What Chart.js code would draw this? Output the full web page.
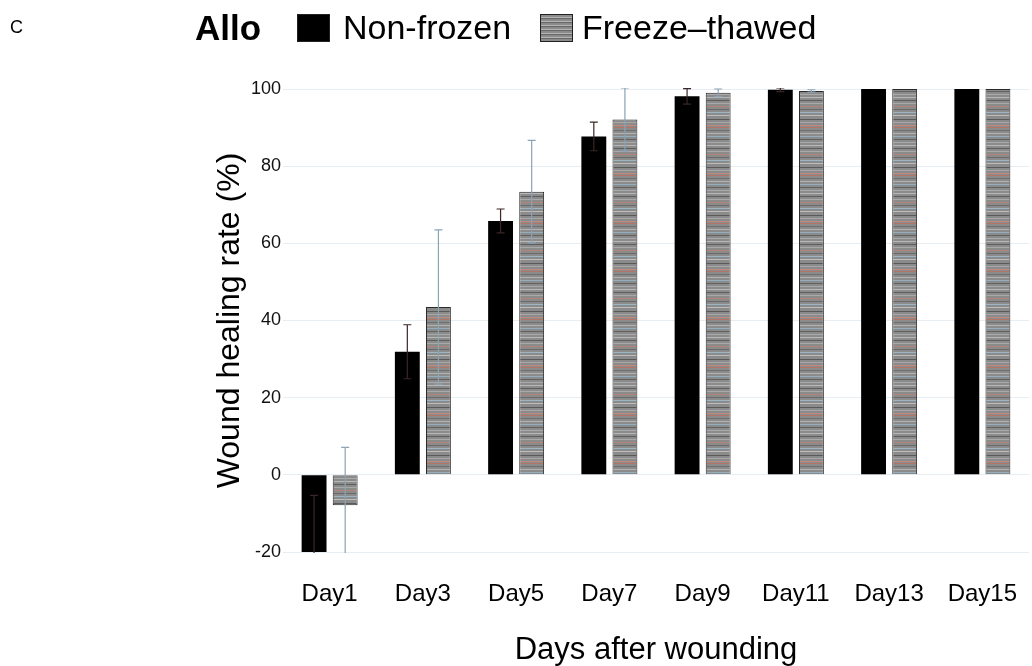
<!DOCTYPE html>
<html>
<head>
<meta charset="utf-8">
<script src="https://cdn.jsdelivr.net/npm/chart.js@4/dist/chart.umd.min.js"></script>
<style>
  body { margin: 0; background: #fff; font-family: "Liberation Sans", Arial, sans-serif; }
  #wrap { position: relative; width: 1032px; height: 666px; }
  #chart { position: absolute; left: 0; top: 0; }
  .hd { position: absolute; color: #000; white-space: nowrap; }
  .box { position: absolute; width: 33px; height: 28px; box-sizing: border-box; border: 1px solid #222; }
</style>
</head>
<body>
<div id="wrap">
  <canvas id="chart" width="1032" height="666"></canvas>
  <div class="hd" style="left:10px;top:17px;font-size:18px;">C</div>
  <div class="hd" style="left:195px;top:8px;font-size:35px;font-weight:bold;">Allo</div>
  <div id="legend"></div>
</div>
<script>
// dados
const categories = ['Day1', 'Day3', 'Day5', 'Day7', 'Day9', 'Day11', 'Day13', 'Day15'];
const nonFrozen = [-20, 31.9, 65.8, 87.7, 98.1, 99.8, 100, 100];
const nonFrozenErr = [14.7, 7, 3.1, 3.7, 2, 0.5, 0, 0];
const freezeThawed = [-7.9, 43.5, 73.4, 92.1, 99, 99.5, 100, 100];
const freezeThawedErr = [15, 20, 13.3, 8.2, 1, 0.3, 0, 0];
const seriesNames = ['Non-frozen', 'Freeze\u2013thawed'];

// padrão listrado das barras cinzas
function makeStripes() {
  const c = document.createElement('canvas');
  c.width = 4; c.height = 48;
  const g = c.getContext('2d');
  g.fillStyle = '#8b8b8b';
  g.fillRect(0, 0, 4, 48);
  const stripes = [
    [1, '#b8b8b8'], [4, '#5e5e5e'], [7, '#a9a9a9'], [10, '#b48378'], [13, '#6a6a6a'],
    [16, '#9db6c4'], [19, '#bdbdbd'], [23, '#5a5a5a'], [26, '#a7a7a7'], [29, '#c0897d'],
    [31, '#b27467'], [34, '#707070'], [37, '#b3b3b3'], [40, '#93aebd'], [43, '#626262'], [46, '#aaaaaa']
  ];
  stripes.forEach(s => { g.fillStyle = s[1]; g.fillRect(0, s[0], 4, 1); });
  return g.createPattern(c, 'repeat');
}

// barras de erro desenhadas por cima
const errorBars = {
  id: 'errorBars',
  afterDatasetsDraw(chart) {
    const ctx = chart.ctx;
    const y = chart.scales.y;
    const area = chart.chartArea;
    ctx.save();
    ctx.beginPath();
    ctx.rect(area.left, area.top - 1, area.right - area.left, area.bottom - area.top + 2);
    ctx.clip();
    chart.data.datasets.forEach((ds, i) => {
      const meta = chart.getDatasetMeta(i);
      meta.data.forEach((bar, j) => {
        const err = ds.errors[j];
        if (!err) return;
        const hi = y.getPixelForValue(ds.data[j] + err);
        const lo = y.getPixelForValue(ds.data[j] - err);
        ctx.strokeStyle = ds.errorColor;
        ctx.lineWidth = 1.2;
        ctx.beginPath();
        ctx.moveTo(bar.x, hi); ctx.lineTo(bar.x, lo);
        ctx.moveTo(bar.x - 4, hi); ctx.lineTo(bar.x + 4, hi);
        ctx.moveTo(bar.x - 4, lo); ctx.lineTo(bar.x + 4, lo);
        ctx.stroke();
      });
    });
    ctx.restore();
  }
};

const ctx = document.getElementById('chart').getContext('2d');
const stripes = makeStripes();

const chart = new Chart(ctx, {
  type: 'bar',
  data: {
    labels: categories,
    datasets: [
      {
        label: seriesNames[0],
        data: nonFrozen,
        errors: nonFrozenErr,
        errorColor: '#3a2626',
        backgroundColor: '#000',
        borderWidth: 0,
        categoryPercentage: 0.667,
        barPercentage: 0.8
      },
      {
        label: seriesNames[1],
        data: freezeThawed,
        errors: freezeThawedErr,
        errorColor: '#8aa3b6',
        backgroundColor: stripes,
        borderColor: '#2a2a2a',
        borderWidth: 1,
        categoryPercentage: 0.667,
        barPercentage: 0.8
      }
    ]
  },
  options: {
    responsive: false,
    animation: false,
    layout: { padding: { top: 89, right: 3, bottom: 0, left: 214 } },
    plugins: { legend: { display: false }, tooltip: { enabled: false } },
    scales: {
      x: {
        afterFit: s => { s.height = 114; s.paddingLeft = 0; s.paddingRight = 0; },
        grid: { display: false, drawTicks: false },
        border: { display: false },
        ticks: { color: '#000', padding: 28, font: { family: 'Liberation Sans', size: 24 } },
        title: {
          display: true, text: 'Days after wounding', color: '#000', padding: 0,
          font: { family: 'Liberation Sans', size: 31, lineHeight: 1 }
        }
      },
      y: {
        afterFit: s => { s.width = 69; },
        min: -20, max: 100,
        grid: { color: '#e6edf3', drawTicks: false },
        border: { display: false },
        ticks: { stepSize: 20, color: '#111', padding: 2, font: { family: 'Liberation Sans', size: 18 } },
        title: {
          display: true, text: 'Wound healing rate (%)', color: '#000', padding: 0,
          font: { family: 'Liberation Sans', size: 32, lineHeight: 1 }
        }
      }
    }
  },
  plugins: [errorBars]
});

// legenda em HTML, ao lado do título "Allo"
const legend = document.getElementById('legend');
const legendPos = [{ box: 297, text: 343 }, { box: 540, text: 582 }];
chart.data.datasets.forEach((ds, i) => {
  const box = document.createElement('div');
  box.className = 'box';
  box.style.left = legendPos[i].box + 'px';
  box.style.top = '14px';
  if (i === 0) {
    box.style.background = '#000';
  } else {
    box.style.background = 'repeating-linear-gradient(#8b8b8b 0 2px, #b5b5b5 2px 3px, #666 3px 4px)';
  }
  legend.appendChild(box);
  const txt = document.createElement('div');
  txt.className = 'hd';
  txt.style.left = legendPos[i].text + 'px';
  txt.style.top = '8px';
  txt.style.fontSize = '34px';
  txt.textContent = ds.label;
  legend.appendChild(txt);
});
</script>
</body>
</html>
